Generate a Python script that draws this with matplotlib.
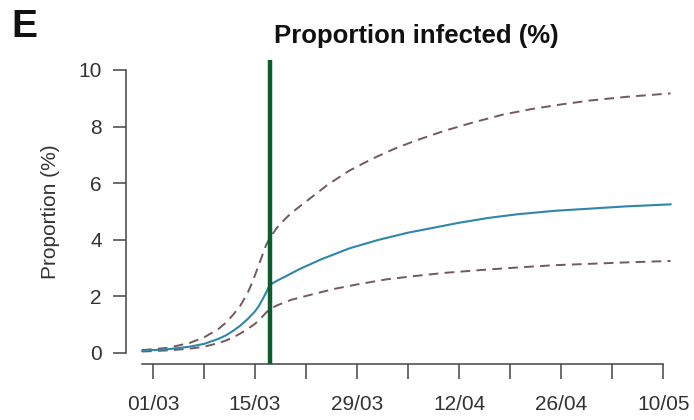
import matplotlib
matplotlib.use("Agg")
import matplotlib.pyplot as plt

plt.rcParams['font.family'] = ['Liberation Sans', 'DejaVu Sans']

# days since 01/03
days_med = [-1.5, 2, 5, 7, 9, 10, 11, 12, 13, 14, 14.5, 15, 15.5, 16, 17, 18, 20, 23, 27, 31, 35, 38, 42, 46, 50, 55, 60, 65, 71]
median = [0.08, 0.13, 0.22, 0.32, 0.5, 0.62, 0.78, 0.97, 1.2, 1.47, 1.65, 1.88, 2.12, 2.4, 2.55, 2.68, 2.95, 3.3, 3.7, 4.0, 4.25, 4.4, 4.6, 4.77, 4.9, 5.02, 5.1, 5.18, 5.25]

days_up = [-1.5, 2, 5, 7, 9, 10, 11, 12, 12.5, 13, 13.5, 14, 14.5, 15, 15.5, 16, 17, 18, 19, 21, 24, 27, 30, 33, 36, 40, 44, 48, 52, 56, 60, 65, 71]
upper = [0.1, 0.18, 0.35, 0.55, 0.85, 1.07, 1.35, 1.68, 1.9, 2.13, 2.42, 2.75, 3.1, 3.45, 3.8, 4.05, 4.42, 4.7, 4.95, 5.35, 5.95, 6.45, 6.85, 7.2, 7.5, 7.85, 8.15, 8.42, 8.62, 8.78, 8.92, 9.05, 9.17]

days_lo = [-1.5, 2, 5, 7, 9, 10, 11, 12, 13, 14, 14.5, 15, 15.5, 16, 17, 19, 22, 25, 28, 32, 36, 40, 45, 50, 55, 60, 65, 71]
lower = [0.05, 0.09, 0.15, 0.22, 0.35, 0.44, 0.55, 0.69, 0.85, 1.03, 1.15, 1.28, 1.42, 1.55, 1.68, 1.88, 2.08, 2.27, 2.42, 2.6, 2.72, 2.83, 2.93, 3.02, 3.1, 3.15, 3.2, 3.25]

intervention_day = 16
tick_days = [0, 14, 28, 42, 56, 70]
tick_labels = ['01/03', '15/03', '29/03', '12/04', '26/04', '10/05']
minor_days = [7, 21, 35, 49, 63]

fig = plt.figure(figsize=(6.94, 4.2), dpi=100)
ax = fig.add_axes([126/694, 56/420, 554/694, 304/420])

dash = (0, (5, 3.2))
ax.plot(days_up, upper, color='#735860', lw=1.4, linestyle=dash)
ax.plot(days_lo, lower, color='#735860', lw=1.4, linestyle=dash)
ax.plot(days_med, median, color='#2f86a8', lw=1.5)
ax.axvline(intervention_day, ymin=0, ymax=(10.28 + 0.39) / (10.35 + 0.39), color='#0d5c2c', lw=3.2)

ax.set_xlim(-3.7, 72.3)
ax.set_ylim(-0.39, 10.35)

# R-style detached axes
for s in ['top', 'right']:
    ax.spines[s].set_visible(False)
ax.spines['left'].set_bounds(0, 10)
ax.spines['bottom'].set_bounds(-1.5, 70)
for s in ['left', 'bottom']:
    ax.spines[s].set_color('#444444')
    ax.spines[s].set_linewidth(1.1)

ax.set_yticks([0, 2, 4, 6, 8, 10])
ax.set_xticks(tick_days)
ax.set_xticklabels(tick_labels)
ax.set_xticks(minor_days, minor=True)
ax.tick_params(axis='y', length=9.5, width=1.1, color='#444444', pad=8, labelsize=15, labelcolor='#333333')
ax.tick_params(axis='x', which='both', length=11, width=1.1, color='#444444', pad=11, labelsize=15, labelcolor='#333333')

ax.set_ylabel('Proportion (%)', fontsize=15, color='#333333', labelpad=13)
fig.text(416/694, 1 - 36/420, 'Proportion infected (%)', ha='center', va='center',
         fontsize=18.5, fontweight='bold', color='#111111')
fig.text(11/694, 1 - 27/420, 'E', ha='left', va='center', fontsize=28, fontweight='bold', color='#111111')

fig.savefig('out.png', dpi=100)
